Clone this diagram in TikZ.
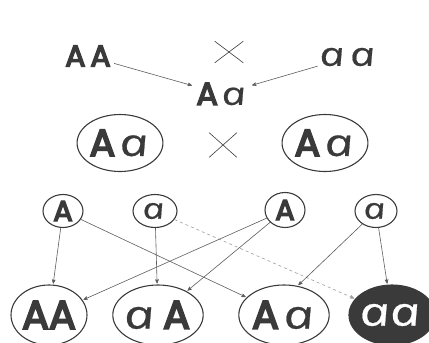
\documentclass[tikz,border=0pt]{standalone}
\usepackage{fontspec}
\usepackage{tikz}
\usetikzlibrary{arrows, shapes.geometric, shapes.misc}

\newfontfamily\domfont{Poppins}[BoldFont=Poppins, BoldFeatures={FakeBold=5}]
\newfontfamily\resfont{Open Sans}[ItalicFeatures={FakeSlant=-0.2, FakeStretch=1.35, FakeBold=0.6}]
\newcommand{\dom}{{\domfont\bfseries A}}
\newcommand{\res}{{\resfont\itshape a}}
\newcommand{\fsz}[1]{\fontsize{#1}{#1}\selectfont}

\definecolor{ink}{HTML}{3A3A3A}
\definecolor{wire}{HTML}{5C5C5C}

\begin{document}
\begin{tikzpicture}[x=1bp, y=-1bp,
    every node/.style={text=ink},
    gen/.style={draw=ink, ellipse, inner sep=0pt, line width=1.1pt},
    cross/.style={cross out, draw=ink, line width=.6pt},
    arr/.style={draw=wire, ->, >=stealth', line width=.6pt, shorten >=1pt}]
\useasboundingbox (0,0) rectangle (429,343);

\node[font=\fsz{30}] (p1) at (88,56) {\dom\,\dom};
\node[cross, minimum width=28bp, minimum height=21bp] (x1) at (229,52) {};
\node[font=\fsz{33}] (p2) at (349,57) {\res\,\res};
\node[font=\fsz{32}] (f1) at (222,94) {\dom\,\res};
\draw[arr] (p1) -- (f1);
\draw[arr] (p2) -- (f1);

\node[gen, minimum width=75bp, minimum height=57bp, font=\fsz{38}] (e1) at (120,143) {\dom\,\res};
\node[cross, minimum width=27bp, minimum height=24bp] (x2) at (223,145) {};
\node[gen, minimum width=80bp, minimum height=57bp, font=\fsz{38}] (e2) at (325,143) {\dom\,\res};

\node[gen, minimum width=40bp, minimum height=33bp, font=\fsz{29}] (g1) at (63,211) {\dom};
\node[gen, minimum width=44bp, minimum height=33bp, font=\fsz{29}] (g2) at (155,211) {\res};
\node[gen, minimum width=40bp, minimum height=35bp, font=\fsz{29}] (g3) at (285,210) {\dom};
\node[gen, minimum width=42bp, minimum height=33bp, font=\fsz{29}] (g4) at (376,211) {\res};

\node[gen, minimum width=75bp, minimum height=60bp, font=\fsz{40}] (o1) at (49,315) {\dom\dom};
\node[gen, minimum width=77bp, minimum height=60bp, font=\fsz{40}] (o2) at (158,315) {\res\,\dom};
\node[gen, minimum width=75bp, minimum height=60bp, font=\fsz{40}] (o3) at (284,315) {\dom\,\res};
\node[gen, minimum width=75bp, minimum height=60bp, font=\fsz{40}, fill=ink, text=white] (o4) at (392,315) {\res\res};

\draw[arr] (g1) -- (o1);
\draw[arr] (g1) -- (o3);
\draw[arr] (g2) -- (o2);
\draw[arr, draw=wire!60, dashed] (g2) -- (o4);
\draw[arr] (g3) -- (o1);
\draw[arr] (g3) -- (o2);
\draw[arr] (g4) -- (o3.65);
\draw[arr] (g4) -- (o4);
\end{tikzpicture}
\end{document}
